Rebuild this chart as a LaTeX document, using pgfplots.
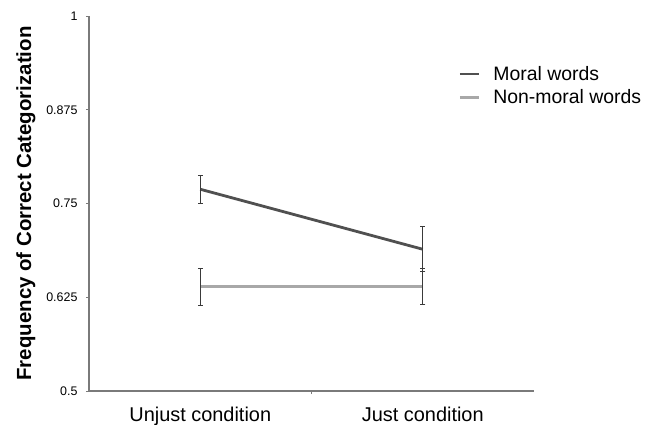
\documentclass[border=0pt]{standalone}
\usepackage{pgfplots}
\pgfplotsset{compat=1.18}
\usepackage{fontspec}
\setmainfont{Liberation Sans}
\definecolor{moral}{HTML}{505050}
\definecolor{nonmoral}{HTML}{A8A8A8}
\definecolor{axisgray}{HTML}{7A7A7A}
\definecolor{errgray}{HTML}{3A3A3A}
\begin{document}
\begin{tikzpicture}
\begin{axis}[
  at={(0,0)}, anchor=south west,
  scale only axis, width=445bp, height=375bp,
  xmin=-0.5, xmax=1.5, ymin=0.5, ymax=1,
  axis lines*=left,
  axis line style={color=axisgray, line width=1.1bp, -},
  xtick={0.5}, xticklabels={},
  extra x ticks={0,1},
  extra x tick labels={Unjust condition, Just condition},
  extra x tick style={major tick length=0pt, tick style={draw=none}},
  xticklabel style={font=\fontsize{20}{24}\selectfont, yshift=-13bp},
  ytick={0.5,0.625,0.75,0.875,1},
  yticklabels={0.5,0.625,0.75,0.875,1},
  yticklabel style={font=\fontsize{12.5}{14}\selectfont, xshift=-5bp},
  tick style={color=axisgray, line width=0.8bp},
  tick align=outside, major tick length=3bp,
  every axis y label/.style={at={(axis description cs:-0.1416,0.5)}, rotate=90, anchor=center},
  ylabel={\fontsize{20.5}{24}\selectfont\bfseries Frequency of Correct Categorization},
  legend style={at={(axis description cs:0.83,0.872)}, anchor=north west, draw=none, fill=none,
    font=\fontsize{19.5}{22}\selectfont, inner sep=0pt, row sep=4bp,
    /tikz/every odd column/.append style={column sep=11bp}},
  legend cell align=left,
  legend image code/.code={\draw[#1] (0bp,0bp) -- (19bp,0bp);},
  clip=false,
]
\addplot[color=moral, line width=2.8bp, forget plot,
  error bars/.cd, y dir=both, y explicit,
  error bar style={color=errgray, line width=0.8bp},
  error mark options={rotate=90, color=errgray, line width=0.8bp, mark size=2.5bp}]
  coordinates {(0,0.769) +- (0,0.019) (1,0.689) +- (0,0.030)};
\addplot[color=nonmoral, line width=2.8bp, forget plot,
  error bars/.cd, y dir=both, y explicit,
  error bar style={color=errgray, line width=0.8bp},
  error mark options={rotate=90, color=errgray, line width=0.8bp, mark size=2.5bp}]
  coordinates {(0,0.639) +- (0,0.0245) (1,0.639) +- (0,0.024)};
\addlegendimage{color=moral, line width=2.8bp}
\addlegendentry{Moral words}
\addlegendimage{color=nonmoral, line width=2.8bp}
\addlegendentry{Non-moral words}
\end{axis}
\pgfresetboundingbox
\useasboundingbox (-89bp,-34bp) rectangle (570bp,391bp);
\end{tikzpicture}
\end{document}
